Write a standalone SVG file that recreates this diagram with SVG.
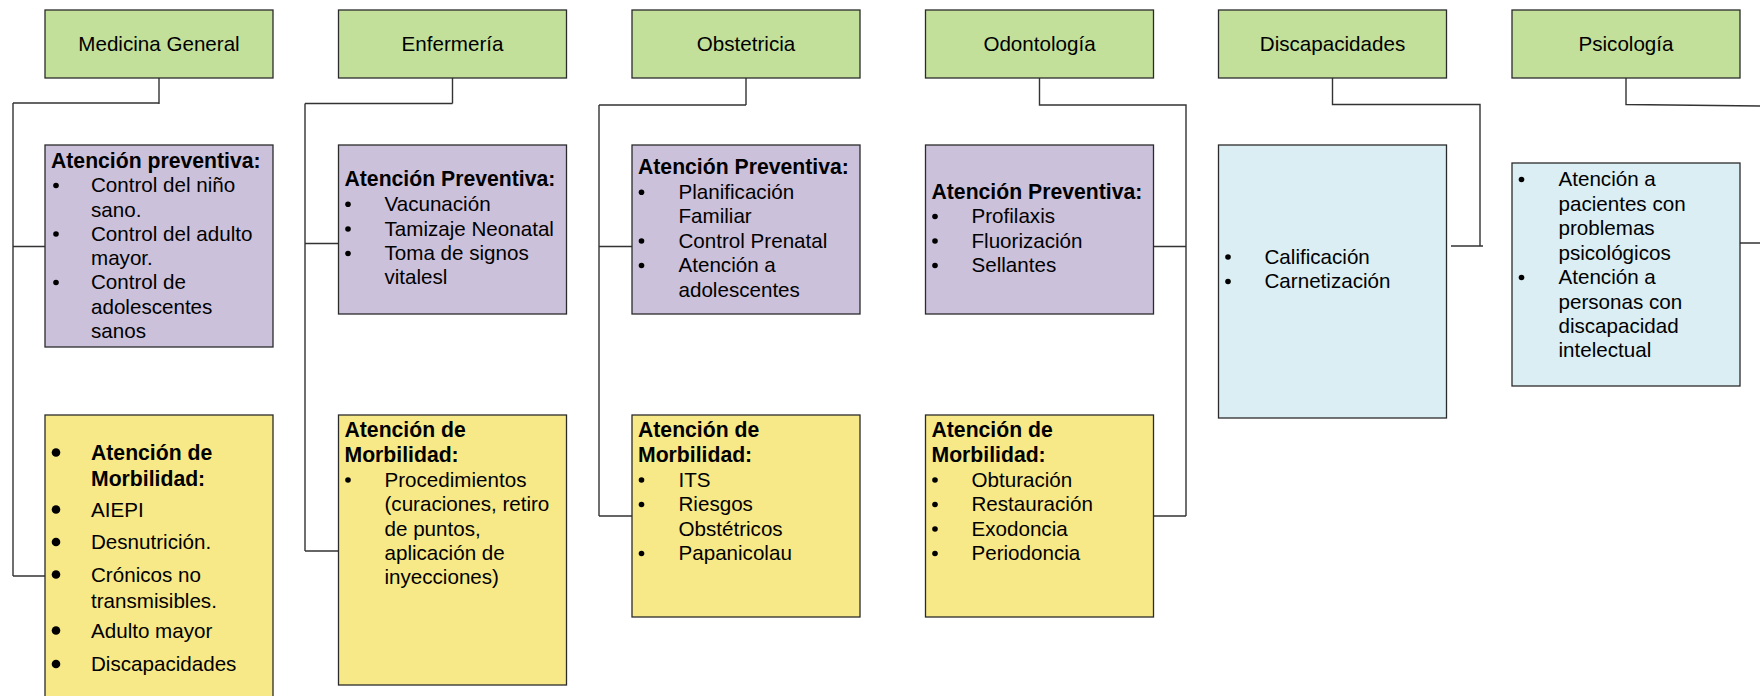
<svg xmlns="http://www.w3.org/2000/svg" width="1760" height="696" viewBox="0 0 1760 696">
<style>
.box{stroke:#2b2b2b;stroke-width:1.3}
.g{fill:#C3E09B}.p{fill:#CCC1DA}.y{fill:#F7E987}.b{fill:#DAEEF3}
text{font-family:"Liberation Sans",Arial,sans-serif;font-size:20.6px;fill:#000}
.t{text-anchor:middle}
.h{font-weight:bold;font-size:21.2px}
.bul{fill:#000}
.con{fill:none;stroke:#333;stroke-width:1.4}
</style>
<g id="connectors" class="con">
<path d="M159,78 V104 M13,103 H159 M13,103 V576 M13,246.5 H45 M13,576 H45"/>
<path d="M452.5,78 V103.5 M305,103.5 H452.5 M305,103.5 V551 M305,243.5 H338.5 M305,551 H338.5"/>
<path d="M746,78 V105 M599,105 H746 M599,105 V516 M599,246.5 H632 M599,516 H632"/>
<path d="M1039.5,78 V105 H1186 V516 M1154,246.5 H1186 M1154,516 H1186"/>
<path d="M1332.5,78 V104.5 H1480 V246 M1451,246 H1483"/>
<path d="M1626,78 V104.5 L1760,106 M1737,243 H1760"/>
</g>
<g id="medicina-general"><rect class="box g" x="45" y="10" width="228" height="68"/><text class="t" x="159" y="51">Medicina General</text></g>
<g id="enfermeria"><rect class="box g" x="338.5" y="10" width="228" height="68"/><text class="t" x="452.5" y="51">Enfermería</text></g>
<g id="obstetricia"><rect class="box g" x="632" y="10" width="228" height="68"/><text class="t" x="746" y="51">Obstetricia</text></g>
<g id="odontologia"><rect class="box g" x="925.5" y="10" width="228" height="68"/><text class="t" x="1039.5" y="51">Odontología</text></g>
<g id="discapacidades"><rect class="box g" x="1218.5" y="10" width="228" height="68"/><text class="t" x="1332.5" y="51">Discapacidades</text></g>
<g id="psicologia"><rect class="box g" x="1512" y="10" width="228" height="68"/><text class="t" x="1626" y="51">Psicología</text></g>

<g id="med-preventiva">
<rect class="box p" x="45" y="145" width="228" height="202"/>
<text class="h" x="51" y="167.5">Atención preventiva:</text>
<circle class="bul" cx="56" cy="185.5" r="2.8"/><circle class="bul" cx="56" cy="234" r="2.8"/><circle class="bul" cx="56" cy="282.5" r="2.8"/>
<text x="91"><tspan x="91" y="192">Control del niño</tspan><tspan x="91" y="216.5">sano.</tspan><tspan x="91" y="240.5">Control del adulto</tspan><tspan x="91" y="265">mayor.</tspan><tspan x="91" y="289">Control de</tspan><tspan x="91" y="313.5">adolescentes</tspan><tspan x="91" y="337.5">sanos</tspan></text>
</g>
<g id="med-morbilidad">
<rect class="box y" x="45" y="415" width="228" height="300"/>
<circle class="bul" cx="56" cy="452.5" r="4.3"/><circle class="bul" cx="56" cy="509.5" r="4.3"/><circle class="bul" cx="56" cy="542" r="4.3"/><circle class="bul" cx="56" cy="574.5" r="4.3"/><circle class="bul" cx="56" cy="630.5" r="4.3"/><circle class="bul" cx="56" cy="664" r="4.3"/>
<text class="h"><tspan x="91" y="460">Atención de</tspan><tspan x="91" y="486">Morbilidad:</tspan></text>
<text><tspan x="91" y="516.7">AIEPI</tspan><tspan x="91" y="549">Desnutrición.</tspan><tspan x="91" y="581.5">Crónicos no</tspan><tspan x="91" y="607.5">transmisibles.</tspan><tspan x="91" y="637.5">Adulto mayor</tspan><tspan x="91" y="671">Discapacidades</tspan></text>
</g>

<g id="enf-preventiva">
<rect class="box p" x="338.5" y="145" width="228" height="169"/>
<text class="h" x="344.5" y="186">Atención Preventiva:</text>
<circle class="bul" cx="348" cy="204.2" r="2.8"/><circle class="bul" cx="348" cy="229" r="2.8"/><circle class="bul" cx="348" cy="253.5" r="2.8"/>
<text><tspan x="384.5" y="210.7">Vacunación</tspan><tspan x="384.5" y="235.5">Tamizaje Neonatal</tspan><tspan x="384.5" y="260">Toma de signos</tspan><tspan x="384.5" y="284.3">vitalesl</tspan></text>
</g>
<g id="enf-morbilidad">
<rect class="box y" x="338.5" y="415" width="228" height="270"/>
<text class="h"><tspan x="344.5" y="437.3">Atención de</tspan><tspan x="344.5" y="461.7">Morbilidad:</tspan></text>
<circle class="bul" cx="348" cy="480" r="2.8"/>
<text><tspan x="384.5" y="486.5">Procedimientos</tspan><tspan x="384.5" y="511">(curaciones, retiro</tspan><tspan x="384.5" y="535.5">de puntos,</tspan><tspan x="384.5" y="560">aplicación de</tspan><tspan x="384.5" y="584">inyecciones)</tspan></text>
</g>

<g id="obs-preventiva">
<rect class="box p" x="632" y="145" width="228" height="169"/>
<text class="h" x="638" y="174">Atención Preventiva:</text>
<circle class="bul" cx="641.5" cy="192.2" r="2.8"/><circle class="bul" cx="641.5" cy="241" r="2.8"/><circle class="bul" cx="641.5" cy="265.5" r="2.8"/>
<text><tspan x="678.5" y="198.7">Planificación</tspan><tspan x="678.5" y="223">Familiar</tspan><tspan x="678.5" y="247.5">Control Prenatal</tspan><tspan x="678.5" y="272">Atención a</tspan><tspan x="678.5" y="296.5">adolescentes</tspan></text>
</g>
<g id="obs-morbilidad">
<rect class="box y" x="632" y="415" width="228" height="202"/>
<text class="h"><tspan x="638" y="437.3">Atención de</tspan><tspan x="638" y="461.7">Morbilidad:</tspan></text>
<circle class="bul" cx="641.5" cy="480" r="2.8"/><circle class="bul" cx="641.5" cy="504.5" r="2.8"/><circle class="bul" cx="641.5" cy="553.5" r="2.8"/>
<text><tspan x="678.5" y="486.5">ITS</tspan><tspan x="678.5" y="511">Riesgos</tspan><tspan x="678.5" y="535.5">Obstétricos</tspan><tspan x="678.5" y="560">Papanicolau</tspan></text>
</g>

<g id="odo-preventiva">
<rect class="box p" x="925.5" y="145" width="228" height="169"/>
<text class="h" x="931.5" y="199">Atención Preventiva:</text>
<circle class="bul" cx="935" cy="216.5" r="2.8"/><circle class="bul" cx="935" cy="241" r="2.8"/><circle class="bul" cx="935" cy="265.5" r="2.8"/>
<text><tspan x="971.5" y="223">Profilaxis</tspan><tspan x="971.5" y="247.5">Fluorización</tspan><tspan x="971.5" y="272">Sellantes</tspan></text>
</g>
<g id="odo-morbilidad">
<rect class="box y" x="925.5" y="415" width="228" height="202"/>
<text class="h"><tspan x="931.5" y="437.3">Atención de</tspan><tspan x="931.5" y="461.7">Morbilidad:</tspan></text>
<circle class="bul" cx="935" cy="480" r="2.8"/><circle class="bul" cx="935" cy="504.5" r="2.8"/><circle class="bul" cx="935" cy="529" r="2.8"/><circle class="bul" cx="935" cy="553.5" r="2.8"/>
<text><tspan x="971.5" y="486.5">Obturación</tspan><tspan x="971.5" y="511">Restauración</tspan><tspan x="971.5" y="535.5">Exodoncia</tspan><tspan x="971.5" y="560">Periodoncia</tspan></text>
</g>

<g id="dis-servicios">
<rect class="box b" x="1218.5" y="145" width="228" height="273"/>
<circle class="bul" cx="1228" cy="257" r="2.8"/><circle class="bul" cx="1228" cy="281.5" r="2.8"/>
<text><tspan x="1264.5" y="263.5">Calificación</tspan><tspan x="1264.5" y="288">Carnetización</tspan></text>
</g>

<g id="psi-servicios">
<rect class="box b" x="1512" y="163" width="228" height="223"/>
<circle class="bul" cx="1521.5" cy="179.5" r="2.8"/><circle class="bul" cx="1521.5" cy="277.5" r="2.8"/>
<text><tspan x="1558.5" y="186">Atención a</tspan><tspan x="1558.5" y="210.5">pacientes con</tspan><tspan x="1558.5" y="235">problemas</tspan><tspan x="1558.5" y="259.5">psicológicos</tspan><tspan x="1558.5" y="284">Atención a</tspan><tspan x="1558.5" y="308.5">personas con</tspan><tspan x="1558.5" y="333">discapacidad</tspan><tspan x="1558.5" y="357">intelectual</tspan></text>
</g>
</svg>
